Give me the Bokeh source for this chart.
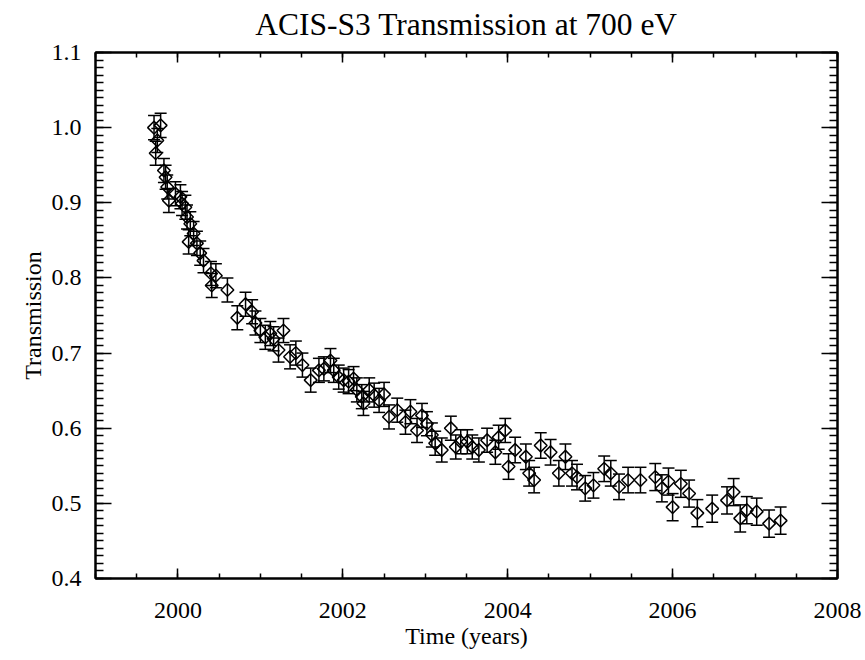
from bokeh.plotting import figure
from bokeh.models import (LinearAxis, SingleIntervalTicker, ColumnDataSource,
                          PrintfTickFormatter, CustomLabelingPolicy)
from bokeh.embed import file_html
from bokeh.resources import INLINE
import math

# ---- data ----
years = [1999.71, 1999.73, 1999.75, 1999.79, 1999.83, 1999.85, 1999.87, 1999.89, 1999.97,
         2000.03, 2000.05, 2000.09, 2000.11, 2000.13, 2000.15, 2000.19, 2000.23, 2000.27,
         2000.31, 2000.40, 2000.41, 2000.46, 2000.60, 2000.72, 2000.82, 2000.90, 2000.94,
         2001.00, 2001.06, 2001.12, 2001.16, 2001.22, 2001.28, 2001.36, 2001.43, 2001.51,
         2001.61, 2001.71, 2001.77, 2001.85, 2001.89, 2001.95, 2002.01, 2002.07, 2002.13,
         2002.17, 2002.23, 2002.25, 2002.32, 2002.38, 2002.44, 2002.50, 2002.56, 2002.66,
         2002.76, 2002.82, 2002.90, 2002.96, 2003.02, 2003.08, 2003.12, 2003.20, 2003.31,
         2003.37, 2003.43, 2003.51, 2003.57, 2003.65, 2003.75, 2003.85, 2003.89, 2003.97,
         2004.01, 2004.09, 2004.22, 2004.26, 2004.32, 2004.40, 2004.52, 2004.62, 2004.70,
         2004.78, 2004.84, 2004.94, 2005.04, 2005.17, 2005.25, 2005.35, 2005.46, 2005.61,
         2005.79, 2005.87, 2005.95, 2006.00, 2006.10, 2006.20, 2006.30, 2006.48, 2006.66,
         2006.74, 2006.82, 2006.90, 2007.02, 2007.17, 2007.31]
trans = [1.000, 0.966, 0.983, 1.003, 0.943, 0.934, 0.921, 0.903, 0.912,
         0.908, 0.899, 0.894, 0.881, 0.848, 0.872, 0.859, 0.846, 0.833,
         0.823, 0.806, 0.790, 0.803, 0.784, 0.747, 0.765, 0.755, 0.740,
         0.730, 0.721, 0.726, 0.719, 0.704, 0.730, 0.695, 0.700, 0.684,
         0.664, 0.677, 0.679, 0.690, 0.677, 0.668, 0.664, 0.662, 0.666,
         0.651, 0.642, 0.633, 0.651, 0.644, 0.637, 0.645, 0.615, 0.624,
         0.608, 0.622, 0.597, 0.617, 0.606, 0.591, 0.580, 0.571, 0.600,
         0.575, 0.582, 0.582, 0.575, 0.571, 0.584, 0.568, 0.588, 0.597,
         0.549, 0.571, 0.562, 0.540, 0.531, 0.577, 0.568, 0.540, 0.562,
         0.540, 0.535, 0.520, 0.524, 0.546, 0.540, 0.522, 0.531, 0.531,
         0.535, 0.520, 0.529, 0.495, 0.526, 0.513, 0.487, 0.493, 0.504,
         0.515, 0.480, 0.491, 0.489, 0.473, 0.477]
errors = [0.016, 0.016, 0.016, 0.016, 0.016, 0.016, 0.016, 0.016, 0.016,
          0.016, 0.016, 0.016, 0.016, 0.016, 0.016, 0.016, 0.016, 0.016,
          0.016, 0.016, 0.016, 0.016, 0.016, 0.016, 0.016, 0.016, 0.016,
          0.016, 0.016, 0.016, 0.016, 0.016, 0.016, 0.016, 0.016, 0.016,
          0.016, 0.016, 0.016, 0.016, 0.016, 0.016, 0.016, 0.016, 0.016,
          0.016, 0.016, 0.016, 0.016, 0.016, 0.016, 0.016, 0.016, 0.016,
          0.016, 0.016, 0.016, 0.016, 0.016, 0.016, 0.016, 0.016, 0.016,
          0.016, 0.016, 0.016, 0.016, 0.016, 0.016, 0.016, 0.016, 0.016,
          0.017, 0.017, 0.017, 0.017, 0.017, 0.017, 0.017, 0.017, 0.017,
          0.017, 0.017, 0.017, 0.017, 0.017, 0.017, 0.017, 0.017, 0.017,
          0.018, 0.018, 0.018, 0.018, 0.018, 0.018, 0.018, 0.018, 0.018,
          0.018, 0.018, 0.018, 0.018, 0.018, 0.018]

TITLE = "ACIS-S3 Transmission at 700 eV"
XLABEL = "Time (years)"
YLABEL = "Transmission"
FONT = "Liberation Serif"

src = ColumnDataSource(dict(
    x=years, y=trans,
    lo=[t - e for t, e in zip(trans, errors)],
    hi=[t + e for t, e in zip(trans, errors)],
))

p = figure(width=865, height=660, x_range=(1999, 2008), y_range=(0.4, 1.1),
           output_backend="svg", toolbar_location=None,
           min_border_left=95, min_border_right=28, min_border_top=52, min_border_bottom=82)
p.grid.visible = False
p.background_fill_color = "white"
p.border_fill_color = "white"
p.outline_line_color = "black"
p.outline_line_width = 2

p.title.text = TITLE
p.title.align = "center"
p.title.vertical_align = "top"
p.title.text_font = FONT
p.title.text_font_size = "31.5px"
p.title.text_font_style = "normal"
p.title.text_color = "black"
p.title.standoff = 10

no_labels = CustomLabelingPolicy(code="""
    for (let i = 0; i < indices.size; i++) { indices.set(i, false) }
    return indices
""")


def style(ax, ticker, major, minor, labels=True):
    ax.ticker = ticker
    ax.axis_line_color = "black"
    ax.axis_line_width = 2
    ax.major_tick_line_color = "black"
    ax.minor_tick_line_color = "black"
    ax.major_tick_line_width = 1.5
    ax.minor_tick_line_width = 1.5
    ax.major_tick_in = major
    ax.major_tick_out = 0
    ax.minor_tick_in = minor
    ax.minor_tick_out = 0
    ax.major_label_text_font = FONT
    ax.major_label_text_color = "black"
    ax.axis_label_text_font = FONT
    ax.axis_label_text_font_style = "normal"
    ax.axis_label_text_color = "black"
    if labels:
        ax.major_label_text_font_size = "24px"
        ax.axis_label_text_font_size = "24px"
    else:
        ax.major_label_text_font_size = "1px"
        ax.major_label_standoff = 0
        ax.major_label_policy = no_labels


xa = p.xaxis[0]
ya = p.yaxis[0]
style(xa, SingleIntervalTicker(interval=2, num_minor_ticks=4), 10, 5)
style(ya, SingleIntervalTicker(interval=0.1, num_minor_ticks=10), 16, 8)
ya.formatter = PrintfTickFormatter(format="%.1f")
xa.axis_label = XLABEL
ya.axis_label = YLABEL
xa.major_label_standoff = 24
xa.axis_label_standoff = 2
ya.major_label_standoff = 14
ya.axis_label_standoff = 3

top = LinearAxis()
style(top, SingleIntervalTicker(interval=2, num_minor_ticks=4), 10, 5, labels=False)
p.add_layout(top, "above")
right = LinearAxis()
style(right, SingleIntervalTicker(interval=0.1, num_minor_ticks=10), 16, 8, labels=False)
p.add_layout(right, "right")

# error bars
p.segment(x0="x", y0="lo", x1="x", y1="hi", source=src, line_color="black", line_width=1.5)
p.scatter(x="x", y="lo", source=src, marker="dash", size=12, line_color="black", line_width=1.5)
p.scatter(x="x", y="hi", source=src, marker="dash", size=12, line_color="black", line_width=1.5)
# diamonds
p.scatter(x="x", y="y", source=src, marker="square", angle=math.pi / 4, size=9,
          fill_color="white", fill_alpha=0.0, line_color="black", line_width=1.5)

open("out.html", "w").write(file_html(p, INLINE))
